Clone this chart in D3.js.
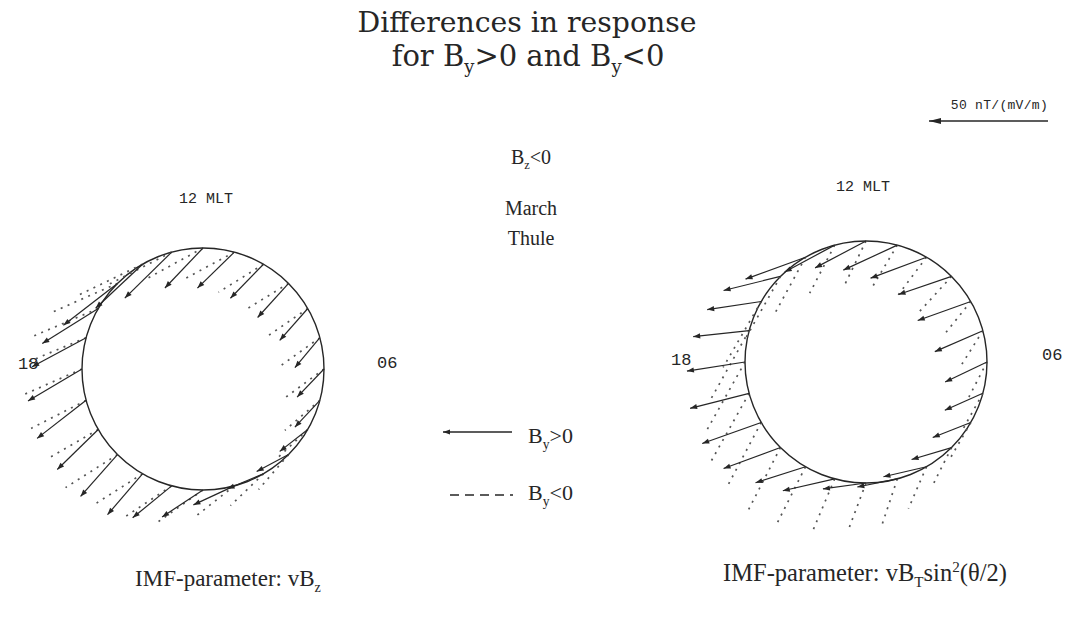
<!DOCTYPE html>
<html>
<head>
<meta charset="utf-8">
<script src="https://cdn.jsdelivr.net/npm/d3@7"></script>
<style>
  body { margin: 0; background: #fff; }
  svg { display: block; }
</style>
</head>
<body>
<svg id="fig" width="1067" height="622"></svg>
<script>
// Station local times (MLT hours) around each polar circle
const mltHours = [0, 1, 2, 3, 4, 5, 6, 7, 8, 9, 10, 11, 12, 13, 14, 15, 16, 17, 18, 19, 20, 21, 22, 23];

// Response vectors in nT/(mV/m); x positive toward 06 MLT, y positive toward 12 MLT
// Left panel, IMF parameter vBz
const vbzPosX = [-17.2, -17.2, -15.1, -13.4, -11.8, -10.5, -11.3, -10.5, -11.8, -13.0, -13.9, -15.5, -16.0, -19.7, -19.7, -22.7, -23.5, -22.7, -22.7, -20.6, -17.2, -15.5, -14.7, -16.4];
const vbzPosY = [-11.3, -8.0, -6.3, -7.1, -9.2, -11.3, -11.8, -12.6, -13.4, -14.3, -14.3, -15.1, -16.8, -19.3, -18.5, -17.6, -14.7, -12.2, -13.4, -16.0, -16.8, -17.6, -17.2, -13.4];
const vbzNegX = [-18.9, -16.0, -13.9, -12.6, -13.4, -14.7, -16.0, -17.6, -17.2, -18.5, -18.9, -21.0, -23.1, -26.1, -27.7, -28.6, -27.7, -26.1, -24.8, -23.1, -21.8, -21.8, -21.0, -20.2];
const vbzNegY = [-13.4, -12.6, -13.4, -14.7, -12.6, -12.6, -11.8, -12.6, -11.8, -11.3, -11.8, -11.3, -12.6, -13.4, -13.4, -12.6, -11.8, -10.9, -10.9, -11.8, -12.6, -13.9, -13.4, -13.4];

// Right panel, IMF parameter vBT sin^2(theta/2)
const vbtPosX = [-18.1, -16.8, -18.1, -16.8, -16.0, -16.0, -17.6, -20.2, -22.3, -22.3, -23.5, -22.7, -21.4, -21.0, -25.2, -23.9, -22.7, -23.5, -24.4, -24.8, -24.8, -23.9, -21.0, -21.8];
const vbtPosY = [-2.5, -3.4, -4.2, -5.0, -6.3, -7.1, -8.4, -8.8, -8.0, -7.6, -8.8, -10.5, -11.3, -11.3, -9.2, -5.9, -3.4, -2.5, -3.8, -6.3, -8.8, -8.8, -6.7, -5.0];
const vbtNegX = [-7.6, -6.3, -7.6, -8.4, -9.2, -8.4, -7.6, -9.2, -11.8, -13.4, -12.6, -10.5, -9.2, -10.5, -12.6, -14.7, -16.0, -16.0, -16.0, -16.0, -14.7, -13.4, -11.8, -9.2];
const vbtNegY = [-20.2, -18.9, -17.6, -16.8, -16.0, -15.1, -14.7, -14.7, -14.7, -14.7, -16.8, -17.6, -18.9, -20.2, -23.1, -26.1, -27.7, -28.6, -28.6, -28.6, -27.7, -26.1, -23.5, -21.8];

// Reference arrow length
const scaleArrowValue = 50;

const svg = d3.select("#fig");
const ink = "#262626";

// Hour -> angle from noon (radians), and vector magnitude -> pixels
const hourAngle = d3.scaleLinear().domain([0, 24]).range([-Math.PI, Math.PI]);
const vecPx = d3.scaleLinear().domain([0, 50]).range([0, 119]);

const panels = [
  { cx: 203, cy: 369, r: 121, posX: vbzPosX, posY: vbzPosY, negX: vbzNegX, negY: vbzNegY },
  { cx: 866, cy: 362, r: 121, posX: vbtPosX, posY: vbtPosY, negX: vbtNegX, negY: vbtNegY }
];

function arrowHead(g, x0, y0, x1, y1, len, half) {
  const a = Math.atan2(y1 - y0, x1 - x0);
  const bx = x1 - len * Math.cos(a), by = y1 - len * Math.sin(a);
  const px = -Math.sin(a) * half, py = Math.cos(a) * half;
  g.append("path")
    .attr("d", `M${x1},${y1}L${bx + px},${by + py}L${bx - px},${by - py}Z`)
    .attr("fill", ink);
}

panels.forEach(p => {
  const g = svg.append("g");
  g.append("circle")
    .attr("cx", p.cx).attr("cy", p.cy).attr("r", p.r)
    .attr("fill", "none").attr("stroke", ink).attr("stroke-width", 1.4);

  const stations = mltHours.map((h, i) => {
    const phi = hourAngle(h);
    return {
      x: p.cx - p.r * Math.sin(phi),
      y: p.cy - p.r * Math.cos(phi),
      pdx: vecPx(p.posX[i]), pdy: -vecPx(p.posY[i]),
      ndx: vecPx(p.negX[i]), ndy: -vecPx(p.negY[i])
    };
  });

  // By < 0 : dotted, no head
  g.selectAll("line.neg").data(stations).join("line")
    .attr("class", "neg")
    .attr("x1", d => d.x).attr("y1", d => d.y)
    .attr("x2", d => d.x + d.ndx).attr("y2", d => d.y + d.ndy)
    .attr("stroke", "#555").attr("stroke-width", 1.7)
    .attr("stroke-dasharray", "2,5.5");

  // By > 0 : solid with head
  g.selectAll("line.pos").data(stations).join("line")
    .attr("class", "pos")
    .attr("x1", d => d.x).attr("y1", d => d.y)
    .attr("x2", d => d.x + d.pdx).attr("y2", d => d.y + d.pdy)
    .attr("stroke", ink).attr("stroke-width", 1.2);
  stations.forEach(d => arrowHead(g, d.x, d.y, d.x + d.pdx, d.y + d.pdy, 7, 2.6));
});

// Text helpers
const serif = "'Liberation Serif', 'Times New Roman', serif";
const wideSerif = "'DejaVu Serif', 'Liberation Serif', serif";
const plotFont = "'Liberation Mono', 'DejaVu Sans Mono', monospace";

function richText(x, y, parts, size, anchor, family) {
  const t = svg.append("text")
    .attr("x", x).attr("y", y)
    .attr("text-anchor", anchor || "middle")
    .attr("font-family", family || serif)
    .attr("font-size", size)
    .attr("fill", ink);
  let shift = 0;
  parts.forEach(pt => {
    const ts = t.append("tspan").text(pt.t);
    let target = 0;
    if (pt.sub) target = size * 0.25;
    if (pt.sup) target = -size * 0.38;
    if (pt.sub || pt.sup) ts.attr("font-size", size * 0.62);
    if (target !== shift) { ts.attr("dy", target - shift); shift = target; }
  });
  return t;
}

// Title
richText(527, 32, [{ t: "Differences in response" }], 28.3, "middle", wideSerif);
richText(528, 66, [{ t: "for B" }, { t: "y", sub: true }, { t: ">0 and B" }, { t: "y", sub: true }, { t: "<0" }], 29, "middle", wideSerif);

// Centre annotations
richText(531, 164, [{ t: "B" }, { t: "z", sub: true }, { t: "<0" }], 20);
richText(531, 215, [{ t: "March" }], 20);
richText(531, 245, [{ t: "Thule" }], 20);

// Clock labels
richText(206, 203, [{ t: "12 MLT" }], 15, "middle", plotFont);
richText(863, 191, [{ t: "12 MLT" }], 15, "middle", plotFont);
richText(18, 369, [{ t: "18" }], 17, "start", plotFont);
richText(671, 365, [{ t: "18" }], 17, "start", plotFont);
richText(377, 368, [{ t: "06" }], 17, "start", plotFont);
richText(1042, 360, [{ t: "06" }], 17, "start", plotFont);

// Scale arrow
const sx1 = 1048, sy = 121;
const sx0 = sx1 - vecPx(scaleArrowValue);
svg.append("line").attr("x1", sx1).attr("y1", sy).attr("x2", sx0).attr("y2", sy)
  .attr("stroke", ink).attr("stroke-width", 1.3);
arrowHead(svg, sx1, sy, sx0, sy, 12, 3);
richText(1048, 109, [{ t: scaleArrowValue + " nT/(mV/m)" }], 13, "end", plotFont)
  .attr("letter-spacing", 0.3);

// Legend
svg.append("line").attr("x1", 512).attr("y1", 432).attr("x2", 443).attr("y2", 432)
  .attr("stroke", ink).attr("stroke-width", 1.3);
arrowHead(svg, 512, 432, 443, 432, 7, 2.6);
richText(528, 443, [{ t: "B" }, { t: "y", sub: true }, { t: ">0" }], 22, "start");
svg.append("line").attr("x1", 450).attr("y1", 495).attr("x2", 513).attr("y2", 495)
  .attr("stroke", ink).attr("stroke-width", 1.6).attr("stroke-dasharray", "9,6");
richText(528, 500, [{ t: "B" }, { t: "y", sub: true }, { t: "<0" }], 22, "start");

// Panel captions
richText(228, 586, [{ t: "IMF-parameter: vB" }, { t: "z", sub: true }], 23);
richText(865, 581, [{ t: "IMF-parameter: vB" }, { t: "T", sub: true }, { t: "sin" }, { t: "2", sup: true }, { t: "(θ/2)" }], 24.5);
</script>
</body>
</html>
